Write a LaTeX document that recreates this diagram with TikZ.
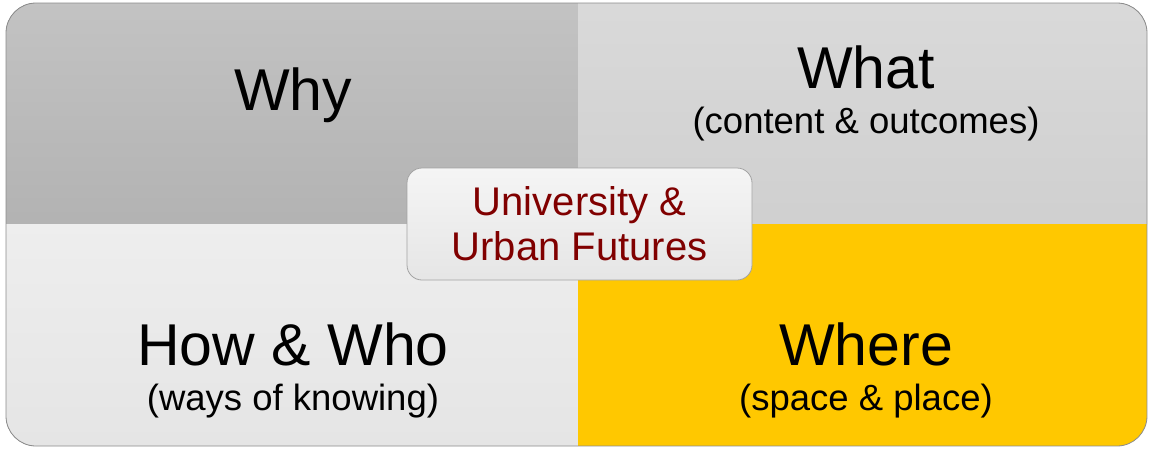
\documentclass[tikz,border=0pt]{standalone}
\usepackage{fontspec}
\setsansfont{Liberation Sans}
\usetikzlibrary{positioning}
\definecolor{whygrey}{RGB}{188,188,188}
\definecolor{whatgrey}{RGB}{214,214,214}
\definecolor{howgrey}{RGB}{236,236,236}
\definecolor{wheregold}{RGB}{255,200,0}
\definecolor{edgegrey}{RGB}{140,140,140}
\definecolor{uufred}{RGB}{128,0,0}

\tikzset{
  title/.style={anchor=base,inner sep=0pt,font=\fontsize{59}{66}\selectfont},
  subtitle/.style={anchor=base,inner sep=0pt,font=\fontsize{36.5}{42}\selectfont},
  centrebox/.style={draw=edgegrey!80,rounded corners=15pt,top color=white!96!black,
    bottom color=white!90!black,minimum width=345pt,minimum height=112pt,
    align=center,text=uufred,font=\fontsize{40}{45}\selectfont}
}

\begin{document}
\begin{tikzpicture}[x=1pt,y=-1pt,line width=0.8pt]
\sffamily
\useasboundingbox[fill=white] (0,0) rectangle (1149,448);

% the four quadrants
\begin{scope}
\clip[rounded corners=30pt] (6,3) rectangle (1147,446);
\fill[top color=whygrey!90!white,bottom color=whygrey!95!black] (6,3) rectangle (578,224);
\fill[top color=whatgrey!92!white,bottom color=whatgrey!97!black] (578,3) rectangle (1147,224);
\fill[top color=howgrey!90!white,bottom color=howgrey!97!black] (6,224) rectangle (578,446);
\fill[wheregold] (578,224) rectangle (1147,446);
\end{scope}
\draw[edgegrey,rounded corners=30pt] (6,3) rectangle (1147,446);

\node[title] (why) at (293,110) {Why};
\node[title] (what) at (866,88) {What};
\node[subtitle] (whatsub) at (866,133) {(content \& outcomes)};
\node[title] (howwho) at (293,365) {How \& Who};
\node[subtitle] (howwhosub) at (293,410) {(ways of knowing)};
\node[title] (where) at (866,365) {Where};
\node[subtitle] (wheresub) at (866,410) {(space \& place)};

\node[centrebox] (uuf) at (579.5,224) {University \&\\Urban Futures};
\end{tikzpicture}
\end{document}
